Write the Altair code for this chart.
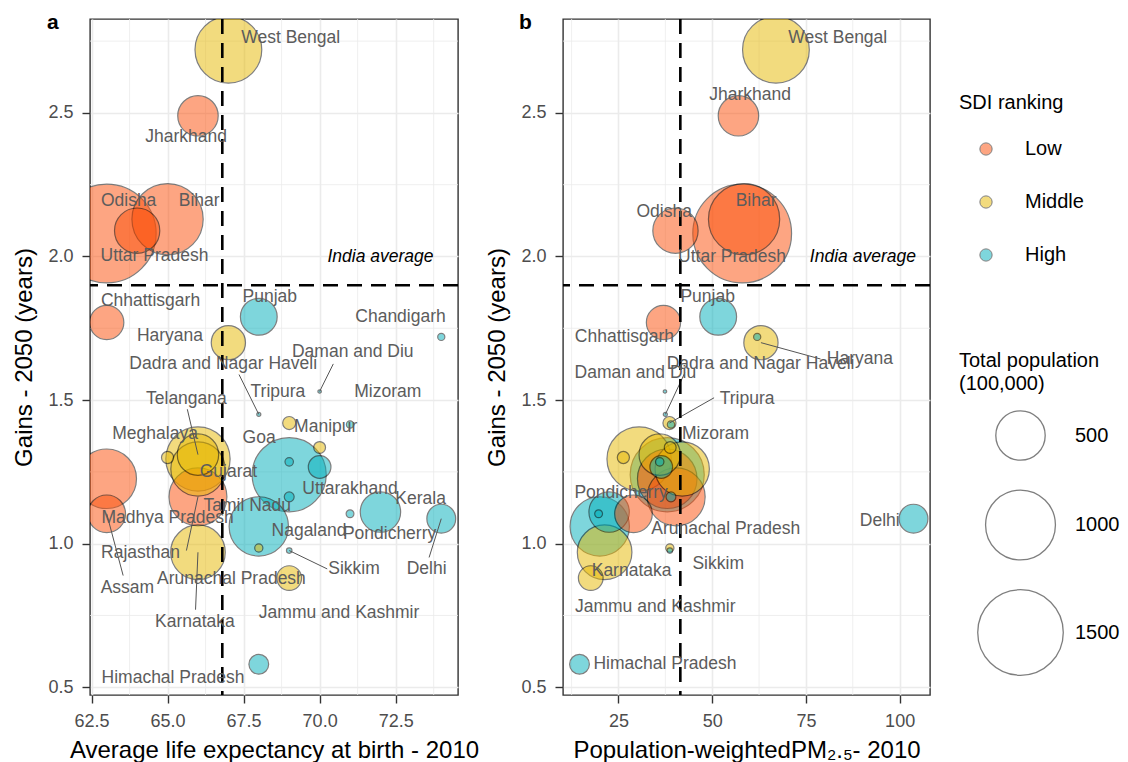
import altair as alt
import pandas as pd

FONT = "Liberation Sans"

# ---------------- data ----------------
states = ["West Bengal", "Jharkhand", "Bihar", "Odisha", "Uttar Pradesh", "Chhattisgarh",
          "Punjab", "Haryana", "Chandigarh", "Daman and Diu", "Dadra and Nagar Haveli",
          "Tripura", "Mizoram", "Manipur", "Goa", "Meghalaya", "Telangana", "Andhra Pradesh",
          "Gujarat", "Maharashtra", "Uttarakhand", "Madhya Pradesh", "Rajasthan", "Nagaland",
          "Kerala", "Pondicherry", "Assam", "Delhi", "Tamil Nadu", "Sikkim",
          "Arunachal Pradesh", "Karnataka", "Jammu and Kashmir", "Himachal Pradesh"]
sdi = ["Middle", "Low", "Low", "Low", "Low", "Low",
       "High", "Middle", "High", "High", "High",
       "Middle", "High", "Middle", "High", "Middle", "Middle", "Middle",
       "Middle", "High", "High", "Low", "Low", "High",
       "High", "High", "Low", "High", "High", "High",
       "Middle", "Middle", "Middle", "High"]
population = [913, 335, 1040, 420, 1998, 240,
              277, 240, 10.5, 2.4, 3.4,
              35, 11, 28.6, 14.6, 30, 350, 846,
              604, 1124, 105, 726, 686, 20,
              334, 12.5, 290, 170, 721, 6.1,
              13.8, 611, 125, 80]
life_expectancy = [67.0, 66.0, 65.0, 64.0, 63.0, 63.0,
                   68.0, 67.0, 74.0, 70.0, 68.0,
                   69.0, 71.0, 70.0, 69.0, 65.0, 66.0, 66.0,
                   66.0, 69.0, 70.0, 63.0, 66.0, 69.0,
                   72.0, 71.0, 63.0, 74.0, 68.0, 69.0,
                   68.0, 66.0, 69.0, 68.0]
pm25 = [67.0, 57.0, 58.5, 40.2, 58.0, 37.0,
        51.6, 63.0, 62.0, 37.4, 37.5,
        38.6, 39.0, 38.8, 36.0, 26.3, 36.0, 30.5,
        42.0, 38.0, 36.4, 38.0, 40.4, 39.0,
        22.5, 19.7, 29.0, 103.7, 20.0, 38.7,
        38.7, 21.3, 17.6, 14.6]
gains = [2.72, 2.49, 2.13, 2.09, 2.08, 1.77,
         1.79, 1.70, 1.72, 1.53, 1.45,
         1.42, 1.415, 1.335, 1.285, 1.30, 1.31, 1.295,
         1.26, 1.24, 1.267, 1.226, 1.163, 1.163,
         1.11, 1.104, 1.104, 1.087, 1.06, 0.976,
         0.985, 0.97, 0.88, 0.58]

# repelled label positions (data units), None = no label
label_a_x = [69.05, 65.61, 66.04, 63.72, 64.57, 64.44,
             68.36, 65.08, 72.66, 71.09, 66.83,
             68.63, 72.24, 70.2, 68.01, 64.59, 65.62, None,
             67.0, None, 71.0, 65.0, 64.11, 69.65,
             73.32, 72.3, 63.68, 73.52, 67.62, 71.13,
             67.1, 65.9, 70.64, 65.18]
label_a_y = [2.76, 2.417, 2.194, 2.194, 2.0, 1.844,
             1.858, 1.722, 1.79, 1.667, 1.625,
             1.528, 1.528, 1.406, 1.368, 1.382, 1.503, None,
             1.25, None, 1.191, 1.09, 0.969, 1.045,
             1.156, 1.035, 0.847, 0.913, 1.132, 0.913,
             0.878, 0.726, 0.757, 0.531]
label_b_x = [83.5, 60.1, 61.7, 37.2, 55.3, 26.6,
             48.8, 89.4, None, 29.5, 62.9,
             59.3, 50.9, None, None, None, None, None,
             None, None, None, None, None, None,
             None, 25.7, None, 94.7, None, 51.6,
             53.6, 28.5, 34.8, 37.4]
label_b_y = [2.76, 2.5625, 2.194, 2.156, 1.997, 1.719,
             1.858, 1.642, None, 1.594, 1.625,
             1.503, 1.382, None, None, None, None, None,
             None, None, None, None, None, None,
             None, 1.177, None, 1.08, None, 0.93,
             1.052, 0.906, 0.778, 0.58]

# label-side ends of the connector segments
seg_a_states = ["Daman and Diu", "Dadra and Nagar Haveli", "Telangana", "Rajasthan",
                "Sikkim", "Delhi", "Assam", "Karnataka"]
seg_a_x = [70.45, 67.35, 65.65, 65.62, 70.25, 73.6, 63.54, 65.92]
seg_a_y = [1.626, 1.589, 1.468, 0.976, 0.912, 0.952, 0.889, 0.77]
seg_b_states = ["Haryana", "Dadra and Nagar Haveli", "Tripura"]
seg_b_x = [78.9, 42.7, 50.5]
seg_b_y = [1.643, 1.595, 1.508]

india_life_exp = 66.8
india_pm25 = 41.5
india_gain = 1.9
india_label_a = (72.0, 1.997)
india_label_b = (90.2, 1.997)

sdi_levels = ["Low", "Middle", "High"]
sdi_colors = ["#FC4E07", "#E7B800", "#00AFBB"]

major_y = [0.5, 1.0, 1.5, 2.0, 2.5]
minor_y = [0.75, 1.25, 1.75, 2.25, 2.75]
major_xa = [62.5, 65.0, 67.5, 70.0, 72.5]
minor_xa = [63.75, 66.25, 68.75, 71.25, 73.75]
major_xb = [25, 50, 75, 100]
minor_xb = [12.5, 37.5, 62.5, 87.5]
size_values = [500, 1000, 1500]

# ---------------- tables ----------------
df = pd.DataFrame({"state": states, "sdi": sdi, "population": population,
                   "life_exp": life_expectancy, "pm25": pm25, "gain": gains})
df["draw"] = -df["population"]

y_scale = alt.Scale(domain=[0.473, 2.827], nice=False, zero=False)
y_axis = alt.Axis(values=major_y, format=".1f", title="Gains - 2050 (years)",
                  labelPadding=9, titlePadding=11)
size_scale = alt.Scale(type="linear", domain=[0, 2000], range=[0, 9760])
color_scale = alt.Scale(domain=sdi_levels, range=sdi_colors)

color_legend = alt.Legend(title="SDI ranking", orient="none", legendX=869, legendY=74,
                          symbolType="circle", symbolSize=150, symbolStrokeColor="black",
                          symbolStrokeWidth=1, symbolOffset=17, labelOffset=29,
                          rowPadding=33, titlePadding=26)
size_legend = alt.Legend(title=["Total population", " (100,000)"], values=size_values,
                         format="d", orient="none", legendX=869, legendY=332,
                         symbolType="circle", symbolFillColor="transparent",
                         symbolStrokeColor="black", symbolStrokeWidth=1.3,
                         symbolOffset=18, labelOffset=11, rowPadding=24, titlePadding=16,
                         titleLineHeight=23)


def panel(xfield, xscale, xaxis, lab_x, lab_y, seg_states, seg_x, seg_y,
          minor_x, avg_x, avg_label, tag, tag_dx, width):
    minor_x_layer = alt.Chart(pd.DataFrame({"v": minor_x})).mark_rule(
        color="#EBEBEB", strokeWidth=0.8).encode(x=alt.X("v:Q", scale=xscale, axis=xaxis))
    minor_y_layer = alt.Chart(pd.DataFrame({"v": minor_y})).mark_rule(
        color="#EBEBEB", strokeWidth=0.8).encode(y=alt.Y("v:Q", scale=y_scale, axis=y_axis))

    points = alt.Chart(df).mark_circle(opacity=0.5, stroke="black", strokeWidth=1.2,
                                       clip=True).encode(
        x=alt.X(f"{xfield}:Q", scale=xscale, axis=xaxis),
        y=alt.Y("gain:Q", scale=y_scale, axis=y_axis),
        size=alt.Size("population:Q", scale=size_scale, legend=size_legend),
        color=alt.Color("sdi:N", scale=color_scale, legend=color_legend),
        order=alt.Order("draw:Q"),
    )

    seg = pd.DataFrame({"state": seg_states, "sx": seg_x, "sy": seg_y})
    seg = seg.merge(df[["state", xfield, "gain"]], on="state")
    seg = seg.rename(columns={xfield: "px", "gain": "py"})
    segments = alt.Chart(seg).mark_rule(color="#555555", strokeWidth=1).encode(
        x=alt.X("sx:Q", scale=xscale, axis=xaxis),
        y=alt.Y("sy:Q", scale=y_scale, axis=y_axis),
        x2="px:Q", y2="py:Q")

    vline = alt.Chart(pd.DataFrame({"v": [avg_x]})).mark_rule(
        color="black", strokeWidth=2.6, strokeDash=[15, 9]).encode(
        x=alt.X("v:Q", scale=xscale, axis=xaxis))
    hline = alt.Chart(pd.DataFrame({"v": [india_gain]})).mark_rule(
        color="black", strokeWidth=2.6, strokeDash=[15, 9]).encode(
        y=alt.Y("v:Q", scale=y_scale, axis=y_axis))

    lab = pd.DataFrame({"state": states, "lx": lab_x, "ly": lab_y}).dropna()
    labels = alt.Chart(lab).mark_text(font=FONT, fontSize=17.5, color="#5C5C5C",
                                      align="center", baseline="middle").encode(
        x=alt.X("lx:Q", scale=xscale, axis=xaxis),
        y=alt.Y("ly:Q", scale=y_scale, axis=y_axis),
        text="state:N")

    avg_text = alt.Chart(pd.DataFrame({"tx": [avg_label[0]], "ty": [avg_label[1]],
                                       "t": ["India average"]})).mark_text(
        font=FONT, fontSize=17.5, fontStyle="italic", color="black",
        align="center", baseline="middle").encode(
        x=alt.X("tx:Q", scale=xscale, axis=xaxis),
        y=alt.Y("ty:Q", scale=y_scale, axis=y_axis),
        text="t:N")

    tag_layer = alt.Chart(pd.DataFrame({"t": [tag]})).mark_text(
        font=FONT, fontSize=21, fontWeight="bold", color="black",
        align="left", baseline="alphabetic").encode(
        x=alt.value(tag_dx), y=alt.value(10), text="t:N")

    return alt.layer(minor_x_layer, minor_y_layer, points, segments, vline, hline,
                     labels, avg_text, tag_layer).properties(width=width, height=676)


xa_scale = alt.Scale(domain=[62.45, 74.55], nice=False, zero=False)
xa_axis = alt.Axis(values=major_xa, format=".1f",
                   title="Average life expectancy at birth - 2010",
                   labelPadding=9, titlePadding=8)
xb_scale = alt.Scale(domain=[10.2, 108.1], nice=False, zero=False)
xb_axis = alt.Axis(values=major_xb, format="d",
                   title="Population-weightedPM\u2082.\u2085- 2010",
                   labelPadding=9, titlePadding=8)

panel_a = panel("life_exp", xa_scale, xa_axis, label_a_x, label_a_y,
                seg_a_states, seg_a_x, seg_a_y, minor_xa, india_life_exp,
                india_label_a, "a", -43, 368)
panel_b = panel("pm25", xb_scale, xb_axis, label_b_x, label_b_y,
                seg_b_states, seg_b_x, seg_b_y, minor_xb, india_pm25,
                india_label_b, "b", -44, 367)

chart = alt.hconcat(panel_a, panel_b, spacing=105, bounds="flush").properties(
    padding={"left": 4, "top": 3, "right": 0, "bottom": 0},
    background="white",
).configure_view(
    stroke="#333333", strokeWidth=1.4
).configure_axis(
    domain=False, grid=True, gridColor="#EBEBEB", gridWidth=1.6,
    tickColor="#333333", tickWidth=1.4, tickSize=8,
    labelFont=FONT, labelFontSize=18, labelColor="#4D4D4D",
    titleFont=FONT, titleFontSize=24, titleFontWeight="normal", titleColor="black",
).configure_legend(
    titleFont=FONT, labelFont=FONT, titleFontSize=20, labelFontSize=20,
    titleFontWeight="normal", titleColor="black", labelColor="black", padding=0,
    symbolBaseFillColor="transparent",
)

chart.save("out.html", embed_options={"renderer": "svg", "actions": False})
